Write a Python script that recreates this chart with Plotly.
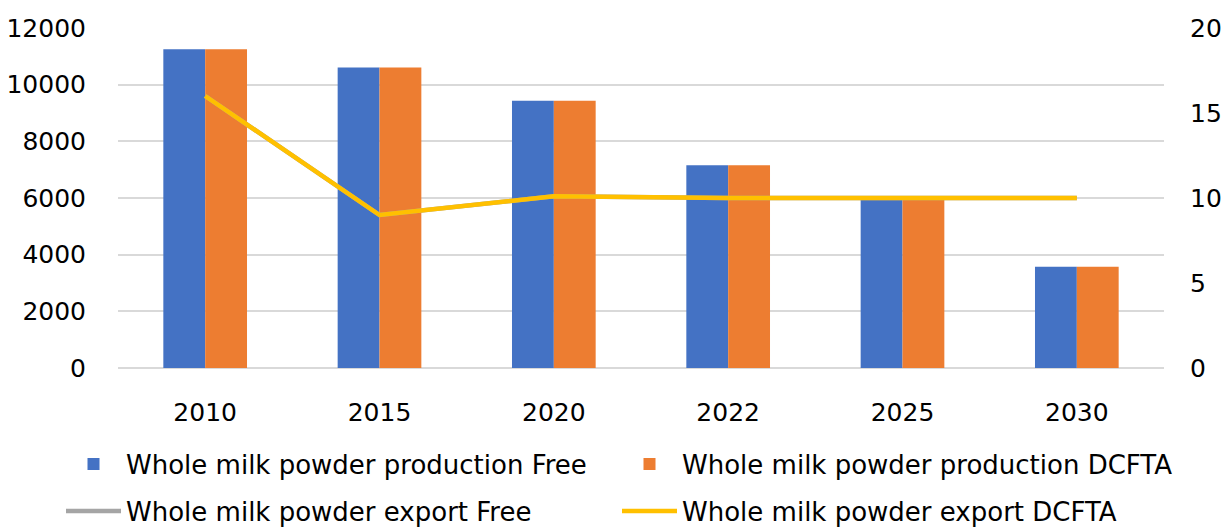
import plotly.graph_objects as go

years = ["2010", "2015", "2020", "2022", "2025", "2030"]
prod_free = [11250, 10610, 9430, 7160, 6000, 3570]
prod_dcfta = [11250, 10610, 9430, 7160, 6000, 3570]
export_free = [16.0, 9.0, 10.1, 10.0, 10.0, 10.0]
export_dcfta = [16.0, 9.0, 10.1, 10.0, 10.0, 10.0]

FONT = "Tahoma, DejaVu Sans, sans-serif"
W, H = 1228, 531
L, R, T, B = 118, 64, 28, 163
PW, PH = W - L - R, H - T - B

fig = go.Figure()
fig.add_trace(go.Bar(x=years, y=prod_free, name="Whole milk powder production Free",
                     marker=dict(color="#4472C4", line=dict(width=0)), legend="legend"))
fig.add_trace(go.Bar(x=years, y=prod_dcfta, name="Whole milk powder production DCFTA",
                     marker=dict(color="#ED7D31", line=dict(width=0)), legend="legend"))
fig.add_trace(go.Scatter(x=years, y=export_free, name="Whole milk powder export Free",
                         mode="lines", line=dict(color="#A5A5A5", width=4.5), yaxis="y2",
                         legend="legend2"))
fig.add_trace(go.Scatter(x=years, y=export_dcfta, name="Whole milk powder export DCFTA",
                         mode="lines", line=dict(color="#FFC000", width=4.5), yaxis="y2",
                         legend="legend2"))

legend_common = dict(orientation="h", x=(61 - L) / PW, xanchor="left", yanchor="middle",
                     entrywidth=486, entrywidthmode="pixels", font=dict(size=26),
                     traceorder="normal", itemwidth=55, bgcolor="rgba(0,0,0,0)")

fig.update_layout(
    width=W, height=H,
    margin=dict(l=L, r=R, t=T, b=B, autoexpand=False),
    paper_bgcolor="white", plot_bgcolor="white",
    font=dict(family=FONT, size=25, color="black"),
    barmode="group", bargap=0.52, bargroupgap=0,
    xaxis=dict(showgrid=False, showline=False, ticks="outside", ticklen=22,
               tickcolor="rgba(0,0,0,0)", tickfont=dict(size=25)),
    yaxis=dict(range=[0, 12000], dtick=2000, tickformat="d", showgrid=True,
               gridcolor="#D9D9D9", gridwidth=1.5,
               zeroline=True, zerolinecolor="#D9D9D9", zerolinewidth=1.5,
               ticks="outside", ticklen=26, tickcolor="rgba(0,0,0,0)",
               tickfont=dict(size=25)),
    yaxis2=dict(range=[0, 20], dtick=5, overlaying="y", side="right", showgrid=False,
                zeroline=False, ticks="outside", ticklen=20, tickcolor="rgba(0,0,0,0)",
                tickfont=dict(size=25)),
    legend=dict(legend_common, y=(H - B - 464) / PH),
    legend2=dict(legend_common, y=(H - B - 511) / PH),
    showlegend=True,
)

fig.write_html("out.html", config={"displayModeBar": False},
               post_script="document.body.style.margin='0';")
